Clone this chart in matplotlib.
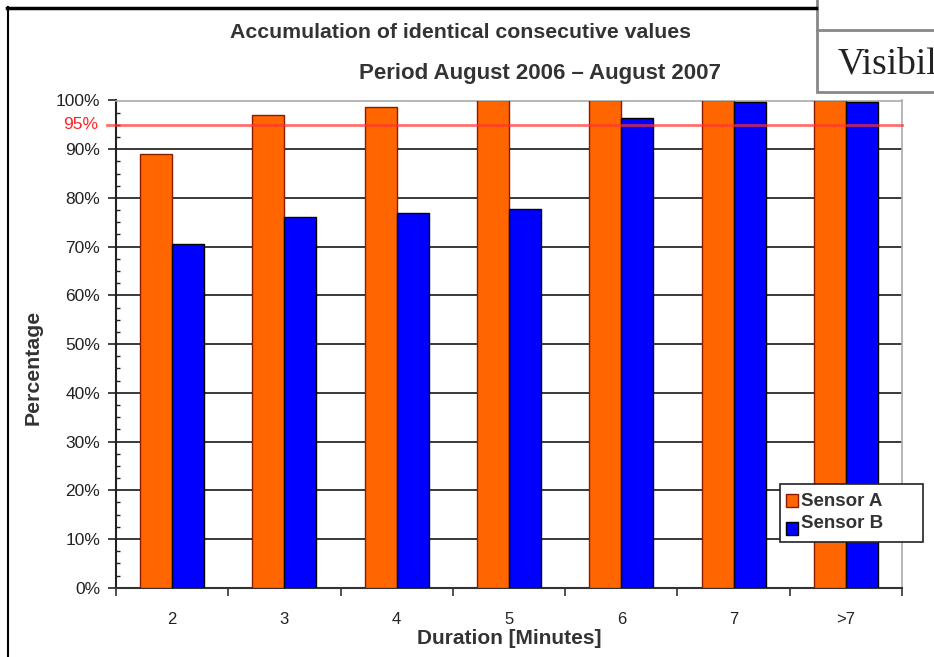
import matplotlib
matplotlib.use("Agg")
import matplotlib.pyplot as plt
from matplotlib.patches import Rectangle
from matplotlib.lines import Line2D
import numpy as np

categories = ["2", "3", "4", "5", "6", "7", ">7"]
sensor_a = [89.0, 97.0, 98.6, 100.0, 100.0, 100.0, 100.0]
sensor_b = [70.6, 76.1, 77.0, 77.8, 96.4, 99.7, 99.7]
y_ticks = [0, 10, 20, 30, 40, 50, 60, 70, 80, 90, 100]
threshold = 95
series_names = ["Sensor A", "Sensor B"]
series_colors = ["#FF6600", "#0000FF"]
series_edges = ["#8B1A00", "#000000"]

W, H = 934, 657
fig = plt.figure(figsize=(W / 100, H / 100), dpi=100)
plt.rcParams['font.family'] = ['Liberation Sans', 'DejaVu Sans']

def px(x0, y0, x1, y1):
    return [x0 / W, 1 - y1 / H, (x1 - x0) / W, (y1 - y0) / H]

def fx(x):
    return x / W

def fy(y):
    return 1 - y / H

ax = fig.add_axes(px(116, 100.5, 902, 587.7))
x = np.arange(len(categories))
bw = 0.285
ax.bar(x - bw / 2, sensor_a, bw, color=series_colors[0], edgecolor=series_edges[0], linewidth=1.0, zorder=3)
ax.bar(x + bw / 2, sensor_b, bw, color=series_colors[1], edgecolor=series_edges[1], linewidth=1.0, zorder=3)

ax.set_xlim(-0.5, len(categories) - 0.5)
ax.set_ylim(0, 100)
for v in y_ticks[1:-1]:
    ax.axhline(v, color="#2a2a2a", lw=1.3, zorder=1)

ax.set_yticks(y_ticks)
ax.set_yticklabels([f"{v}%" for v in y_ticks], fontsize=12.5, color="#222222")
ax.set_yticks(np.arange(0, 100.1, 2.5), minor=True)
ax.tick_params(axis="y", which="major", direction="out", length=6, width=1.2, color="#222222", pad=5.5)
ax.tick_params(axis="y", which="minor", direction="in", length=3, width=1, color="#222222")

ax.set_xticks(np.arange(-0.5, len(categories), 1.0))
ax.set_xticklabels([])
ax.set_xticks(x, minor=True)
ax.set_xticklabels(categories, minor=True, fontsize=12, color="#222222")
ax.tick_params(axis="x", which="major", direction="out", length=6, width=1.2, color="#333333")
ax.tick_params(axis="x", which="minor", length=0, pad=17.5)

ax.spines["left"].set_color("#222222")
ax.spines["left"].set_linewidth(1.5)
ax.spines["bottom"].set_color("#333333")
ax.spines["bottom"].set_linewidth(1.5)
ax.spines["top"].set_color("#AAAAAA")
ax.spines["right"].set_color("#AAAAAA")
ax.spines["top"].set_linewidth(1.2)
ax.spines["right"].set_linewidth(1.2)

# 95% threshold line
ax.add_line(Line2D([-0.5 - 9 / 112.3, len(categories) - 0.5], [threshold, threshold],
                   color="#FF3333", alpha=0.7, lw=2, zorder=4, clip_on=False))
ax.text(-0.5 - 18 / 112.3, threshold, f"{threshold}%", color="#FF2222", fontsize=12.5,
        ha="right", va="center")

fig.text(fx(460), fy(32), "Accumulation of identical consecutive values",
         ha="center", va="center", fontsize=15.3, fontweight="bold", color="#333333")
fig.text(fx(540), fy(73), "Period August 2006 \u2013 August 2007",
         ha="center", va="center", fontsize=16, fontweight="bold", color="#333333")
fig.text(fx(509), fy(638), "Duration [Minutes]", ha="center", va="center",
         fontsize=15, fontweight="bold", color="#333333")
fig.text(fx(33), fy(367), "Percentage", ha="center", va="center", rotation=90,
         fontsize=15.3, fontweight="bold", color="#333333")

# Legend (drawn manually to match the box size)
fig.add_artist(Rectangle((fx(780), fy(542)), (923 - 780) / W, (542 - 484) / H,
                         facecolor="white", edgecolor="#222222", lw=1.2,
                         transform=fig.transFigure, zorder=10))
legend_rows = [(501, 494, 507), (523, 522, 535)]
for (ty, y0, y1), name, c, e in zip(legend_rows, series_names, series_colors, series_edges):
    fig.add_artist(Rectangle((fx(786), fy(y1)), 12 / W, (y1 - y0) / H, facecolor=c,
                             edgecolor=e, lw=1, transform=fig.transFigure, zorder=11))
    fig.text(fx(801), fy(ty), name, ha="left", va="center", fontsize=13.5,
             fontweight="bold", color="#333333", zorder=12)

# Screenshot frame artifacts
fig.add_artist(Line2D([fx(7), fx(816)], [fy(7.5), fy(7.5)], color="black", lw=2.5))
fig.add_artist(Line2D([fx(7.5), fx(7.5)], [fy(7), 0], color="black", lw=1.5))
fig.add_artist(Rectangle((fx(817), fy(92)), (W + 5 - 817) / W, 100 / H, facecolor="white",
                         edgecolor="#888888", lw=2, transform=fig.transFigure, clip_on=False))
fig.add_artist(Line2D([fx(817), 1], [fy(29.5), fy(29.5)], color="#888888", lw=2))
fig.text(fx(838), fy(73), "Visibil", fontsize=27, family="Liberation Serif",
         color="#222222", ha="left", va="baseline")

fig.savefig("out.png", dpi=100)
